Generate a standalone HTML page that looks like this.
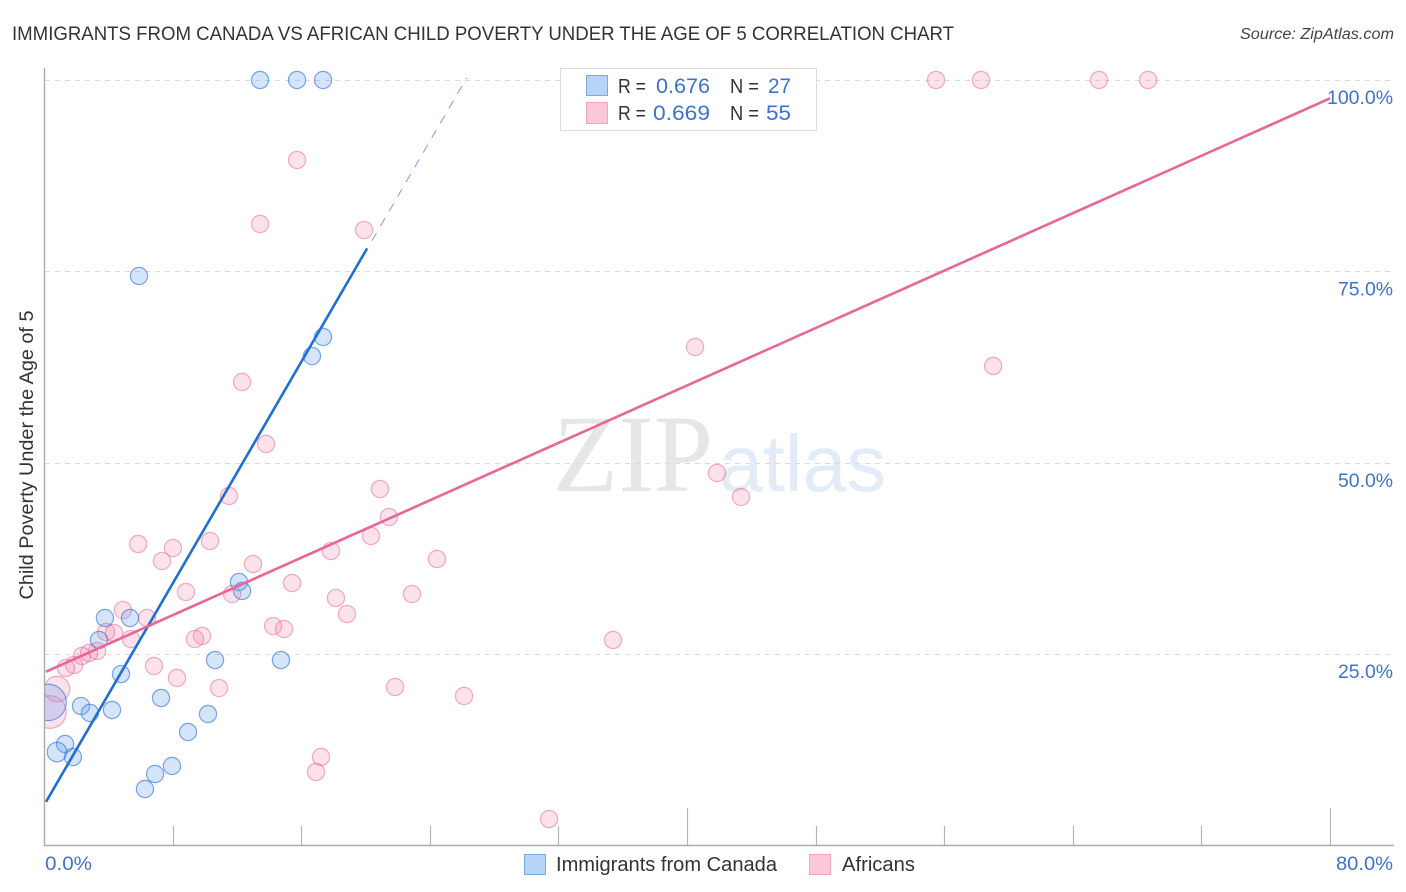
<!DOCTYPE html>
<html lang="en">
<head>
<meta charset="utf-8">
<title>Immigrants from Canada vs African Child Poverty Correlation Chart</title>
<style>
html,body{margin:0;padding:0;background:#fff;width:1406px;height:892px;overflow:hidden}
svg{display:block}
text{font-family:"Liberation Sans",sans-serif}
</style>
</head>
<body>
<svg id="chart" xmlns="http://www.w3.org/2000/svg" width="1406" height="892" viewBox="0 0 1406 892">
  <rect x="0" y="0" width="1406" height="892" fill="#ffffff"/>

  <g>
    <text x="553" y="491" font-size="110" fill="#e6e6e6" textLength="160" lengthAdjust="spacingAndGlyphs" style="font-family:'Liberation Serif',serif">ZIP</text>
    <text x="719" y="491" font-size="80" fill="#e2ecf9" textLength="167" lengthAdjust="spacingAndGlyphs">atlas</text>
  </g>

  <g id="grid"></g>
  <g id="marks"></g>
  <rect x="0" y="60" width="44" height="800" fill="#ffffff"/>
  <g id="axes"></g>
  <g id="trends"></g>
  <g id="labels"></g>

  <text x="12" y="40" font-size="19.5" fill="#333333" textLength="942" lengthAdjust="spacingAndGlyphs">IMMIGRANTS FROM CANADA VS AFRICAN CHILD POVERTY UNDER THE AGE OF 5 CORRELATION CHART</text>
  <text x="1394" y="39" font-size="15.5" font-style="italic" fill="#444444" text-anchor="end" textLength="154" lengthAdjust="spacingAndGlyphs">Source: ZipAtlas.com</text>
  <text transform="translate(33,455) rotate(-90)" font-size="19" fill="#333333" text-anchor="middle" textLength="289" lengthAdjust="spacingAndGlyphs">Child Poverty Under the Age of 5</text>

  <g>
    <rect x="560.5" y="68.5" width="256" height="62" fill="#ffffff" stroke="#dddddd"/>
    <rect x="586.5" y="75.5" width="21" height="20" fill="#b7d3f7" stroke="#7fa8de"/>
    <rect x="586.5" y="102.5" width="21" height="21" fill="#fcc8d8" stroke="#f0a3bd"/>
    <text x="618" y="93" font-size="20" fill="#333333" textLength="28" lengthAdjust="spacingAndGlyphs">R =</text>
    <text x="656" y="93" font-size="21" fill="#3b73cf" textLength="54" lengthAdjust="spacingAndGlyphs">0.676</text>
    <text x="730" y="93" font-size="20" fill="#333333" textLength="29" lengthAdjust="spacingAndGlyphs">N =</text>
    <text x="768" y="93" font-size="21" fill="#3b73cf" textLength="23" lengthAdjust="spacingAndGlyphs">27</text>
    <text x="618" y="120" font-size="20" fill="#333333" textLength="28" lengthAdjust="spacingAndGlyphs">R =</text>
    <text x="653" y="120" font-size="21" fill="#3b73cf" textLength="57" lengthAdjust="spacingAndGlyphs">0.669</text>
    <text x="730" y="120" font-size="20" fill="#333333" textLength="29" lengthAdjust="spacingAndGlyphs">N =</text>
    <text x="766" y="120" font-size="21" fill="#3b73cf" textLength="25" lengthAdjust="spacingAndGlyphs">55</text>
  </g>

  <g>
    <rect x="524.5" y="854.5" width="21" height="20" fill="#b7d3f7" stroke="#7fa8de"/>
    <text x="556" y="871" font-size="20" fill="#333333" textLength="221" lengthAdjust="spacingAndGlyphs">Immigrants from Canada</text>
    <rect x="809.5" y="854.5" width="21" height="20" fill="#fcc8d8" stroke="#f0a3bd"/>
    <text x="842" y="871" font-size="20" fill="#333333" textLength="73" lengthAdjust="spacingAndGlyphs">Africans</text>
  </g>
</svg>
<script>
const xTickValues = [0, 8, 16, 24, 32, 40, 48, 56, 64, 72, 80];
const xTallTicks = [40, 80];
const xLabelValues = [0, 80];
const xLabelText = ['0.0%', '80.0%'];
const yTickValues = [25, 50, 75, 100];
const yTickText = ['25.0%', '50.0%', '75.0%', '100.0%'];

const canadaX = [13.44, 15.74, 17.36, 5.91, 17.36, 16.67, 12.13, 12.32, 3.79, 5.35, 3.42, 10.64, 14.74, 4.79, 7.28, 2.30, 2.86, 4.23, 10.2, 8.96, 1.31, 0.81, 1.80, 7.96, 6.91, 6.28, 0.25];
const canadaY = [100, 100, 100, 74.4, 66.43, 63.94, 34.42, 33.25, 29.72, 29.72, 26.85, 24.23, 24.23, 22.4, 19.27, 18.22, 17.31, 17.7, 17.18, 14.83, 13.26, 12.21, 11.56, 10.39, 9.34, 7.38, 18.7];
const canadaWeight = [1, 1, 1, 1, 1, 1, 1, 1, 1, 1, 1, 1, 1, 1, 1, 1, 1, 1, 1, 1, 1, 1.3, 1, 1, 1, 1, 4.5];

const africansX = [55.49, 58.29, 65.63, 68.68, 15.74, 13.44, 19.91, 40.5, 59.04, 12.32, 13.81, 41.87, 43.36, 11.51, 20.9, 21.46, 20.34, 10.33, 5.85, 8.02, 17.85, 7.34, 13.0, 24.45, 15.43, 8.83, 11.7, 22.89, 18.16, 6.41, 4.91, 18.85, 14.25, 14.93, 3.86, 4.35, 5.41, 9.83, 9.39, 35.4, 3.3, 2.8, 2.36, 1.87, 1.37, 6.84, 8.27, 10.89, 21.84, 26.13, 0.81, 0.37, 17.23, 16.92, 31.42];
const africansY = [100, 100, 100, 100, 89.55, 81.19, 80.4, 65.12, 62.64, 60.55, 52.45, 48.66, 45.53, 45.66, 46.57, 42.91, 40.43, 39.78, 39.39, 38.86, 38.47, 37.16, 36.77, 37.43, 34.29, 33.12, 32.85, 32.85, 32.33, 29.72, 30.76, 30.24, 28.67, 28.28, 27.89, 27.76, 26.98, 27.37, 26.98, 26.85, 25.41, 25.15, 24.76, 23.58, 23.19, 23.45, 21.88, 20.57, 20.71, 19.53, 20.44, 17.44, 11.56, 9.6, 3.46];
const africansWeight = [1, 1, 1, 1, 1, 1, 1, 1, 1, 1, 1, 1, 1, 1, 1, 1, 1, 1, 1, 1, 1, 1, 1, 1, 1, 1, 1, 1, 1, 1, 1, 1, 1, 1, 1, 1, 1, 1, 1, 1, 1, 1, 1, 1, 1, 1, 1, 1, 1, 1, 2.2, 3.6, 1, 1, 1];

const canadaTrendX = [0.125, 20.1];
const canadaTrendY = [5.7, 78];
const canadaTrendExtX = [20.4, 26.3];
const canadaTrendExtY = [79, 100.3];
const africansTrendX = [0.125, 80];
const africansTrendY = [22.7, 97.6];

const NS = 'http://www.w3.org/2000/svg';
function xScale(v) { return 44 + v * 16.075; }
function yScale(v) { return 845.5 - v * 7.655; }
function radius(w) { return 8.6 * Math.sqrt(w); }
function make(tag, attrs, parent) {
  const el = document.createElementNS(NS, tag);
  for (const k in attrs) el.setAttribute(k, attrs[k]);
  parent.appendChild(el);
  return el;
}
const grid = document.getElementById('grid');
const axes = document.getElementById('axes');
const marks = document.getElementById('marks');
const trends = document.getElementById('trends');
const labels = document.getElementById('labels');

yTickValues.forEach(function (v, i) {
  const g = make('line', { x1: 45, x2: 1394, y1: Math.round(yScale(v)) + 0.5, y2: Math.round(yScale(v)) + 0.5, stroke: '#d9dbdf', 'stroke-width': 1, 'stroke-dasharray': '5 5' }, grid);
  
  
  const t = make('text', { x: 1393, y: yScale(v) + 24, 'font-size': 19.5, fill: '#3b73cf', 'text-anchor': 'end', textLength: yTickText[i].length > 5 ? 66 : 55, lengthAdjust: 'spacingAndGlyphs' }, labels);
  t.textContent = yTickText[i];
  
  
});

const yAxis = make('line', { x1: 44.5, x2: 44.5, y1: 68, y2: 846, stroke: '#aaaaaa', 'stroke-width': 1.4 }, axes);


const xAxis = make('line', { x1: 44, x2: 1394, y1: 845.5, y2: 845.5, stroke: '#aaaaaa', 'stroke-width': 1.4 }, axes);


xTickValues.slice(1).forEach(function (v) {
  const tall = xTallTicks.indexOf(v) >= 0;
  const px = Math.round(xScale(v)) + 0.5;
  const tk = make('line', { x1: px, x2: px, y1: tall ? 808 : 826, y2: 845, stroke: '#b5b5b5', 'stroke-width': 1.2 }, axes);
  
  
});
xLabelValues.forEach(function (v, i) {
  const first = i === 0;
  const t = make('text', { x: first ? xScale(v) + 1 : 1393, y: 870, 'font-size': 19.5, fill: '#3b73cf', 'text-anchor': first ? 'start' : 'end', textLength: first ? 47 : 57, lengthAdjust: 'spacingAndGlyphs' }, labels);
  t.textContent = xLabelText[i];
  
  
});

function drawPoints(xs, ys, ws, fill, stroke, name) {
  xs.forEach(function (x, i) {
    const c = make('circle', { cx: xScale(x), cy: yScale(ys[i]), r: radius(ws[i]), fill: fill, stroke: stroke, 'stroke-width': 1.2 }, marks);
    
    
  });
}
drawPoints(africansX, africansY, africansWeight, 'rgba(245,125,165,0.22)', 'rgba(228,110,150,0.55)', 'africans-point');
drawPoints(canadaX, canadaY, canadaWeight, 'rgba(90,150,235,0.26)', 'rgba(50,115,210,0.62)', 'canada-point');

const solidBlue = make('line', { x1: xScale(canadaTrendX[0]), y1: yScale(canadaTrendY[0]), x2: xScale(canadaTrendX[1]), y2: yScale(canadaTrendY[1]), stroke: '#1f6fd6', 'stroke-width': 2.6 }, trends);


const dashBlue = make('line', { x1: xScale(canadaTrendExtX[0]), y1: yScale(canadaTrendExtY[0]), x2: xScale(canadaTrendExtX[1]), y2: yScale(canadaTrendExtY[1]), stroke: '#7f9dd8', 'stroke-width': 1, 'stroke-dasharray': '9 8' }, trends);


const solidPink = make('line', { x1: xScale(africansTrendX[0]), y1: yScale(africansTrendY[0]), x2: xScale(africansTrendX[1]), y2: yScale(africansTrendY[1]), stroke: '#ea6795', 'stroke-width': 2.6 }, trends);


</script>
</body>
</html>
